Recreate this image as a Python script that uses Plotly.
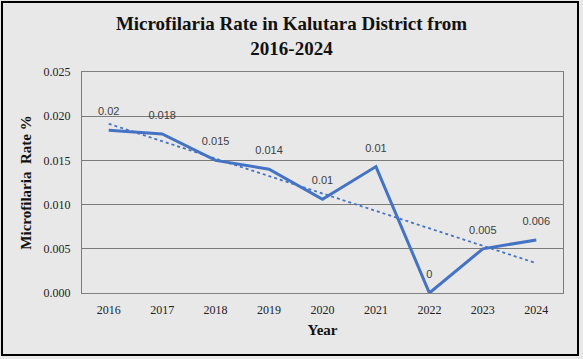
import numpy as np
import plotly.graph_objects as go

years = ["2016", "2017", "2018", "2019", "2020", "2021", "2022", "2023", "2024"]
rates = [0.0184, 0.0180, 0.0150, 0.0140, 0.0106, 0.0143, 0.0000, 0.0050, 0.0060]
labels = ["0.02", "0.018", "0.015", "0.014", "0.01", "0.01", "0", "0.005", "0.006"]
y_ticks = [0.000, 0.005, 0.010, 0.015, 0.020, 0.025]

W, H = 583, 359
L, R, T, B = 82, 20, 72, 66
pw, ph = W - L - R, H - T - B

idx = np.arange(len(years))
slope, intercept = np.polyfit(idx, rates, 1)
trend = slope * idx + intercept

fig = go.Figure()
fig.add_trace(go.Scatter(
    x=years, y=trend, mode="lines",
    line=dict(color="#4472c4", width=1.8, dash="dot"),
    hoverinfo="skip", showlegend=False))
fig.add_trace(go.Scatter(
    x=years, y=rates, mode="lines+markers+text", text=labels,
    textposition="top center",
    textfont=dict(family="Liberation Sans, Arial", size=11, color="#404040"),
    marker=dict(size=18, color="rgba(0,0,0,0)"),
    line=dict(color="#4472c4", width=3),
    showlegend=False))

# outer frame
def px_x(x):
    return (x - L) / pw

def px_y(y):
    return (H - B - y) / ph

fig.add_shape(type="rect", xref="paper", yref="paper",
              x0=px_x(2), x1=px_x(578), y0=px_y(355), y1=px_y(2),
              line=dict(color="black", width=2), layer="below")

fig.update_layout(
    width=W, height=H,
    margin=dict(l=L, r=R, t=T, b=B, autoexpand=False),
    paper_bgcolor="#e8e8e8", plot_bgcolor="#e8e8e8",
    title=dict(
        text="<b>Microfilaria Rate in Kalutara District from<br>2016-2024</b>",
        x=0.5, xanchor="center", y=1 - 30 / H, yanchor="middle",
        font=dict(family="Liberation Serif, Times New Roman", size=19, color="#111111")),
    xaxis=dict(
        type="category", range=[-0.5, 8.5],
        showgrid=False, zeroline=False,
        showline=True, linecolor="#808080", linewidth=1, mirror=True,
        ticks="", ticklabelstandoff=6,
        tickfont=dict(family="Liberation Serif, Times New Roman", size=12, color="#222222"),
        title=dict(text="<b>Year</b>", standoff=8,
                   font=dict(family="Liberation Serif, Times New Roman", size=15, color="#111111"))),
    yaxis=dict(
        range=[0, 0.025], tickvals=y_ticks, tickformat=".3f",
        showgrid=True, gridcolor="#7a7a7a", gridwidth=1,
        zeroline=False,
        showline=True, linecolor="#7a7a7a", linewidth=1, mirror=True,
        ticks="", ticklabelstandoff=8,
        tickfont=dict(family="Liberation Serif, Times New Roman", size=12, color="#222222"),
        title=dict(text="<b>Microfilaria  Rate %</b>", standoff=8,
                   font=dict(family="Liberation Serif, Times New Roman", size=15, color="#111111"))),
)

fig.write_html("out.html", config={"displayModeBar": False},
               post_script="document.body.style.margin='0';")
